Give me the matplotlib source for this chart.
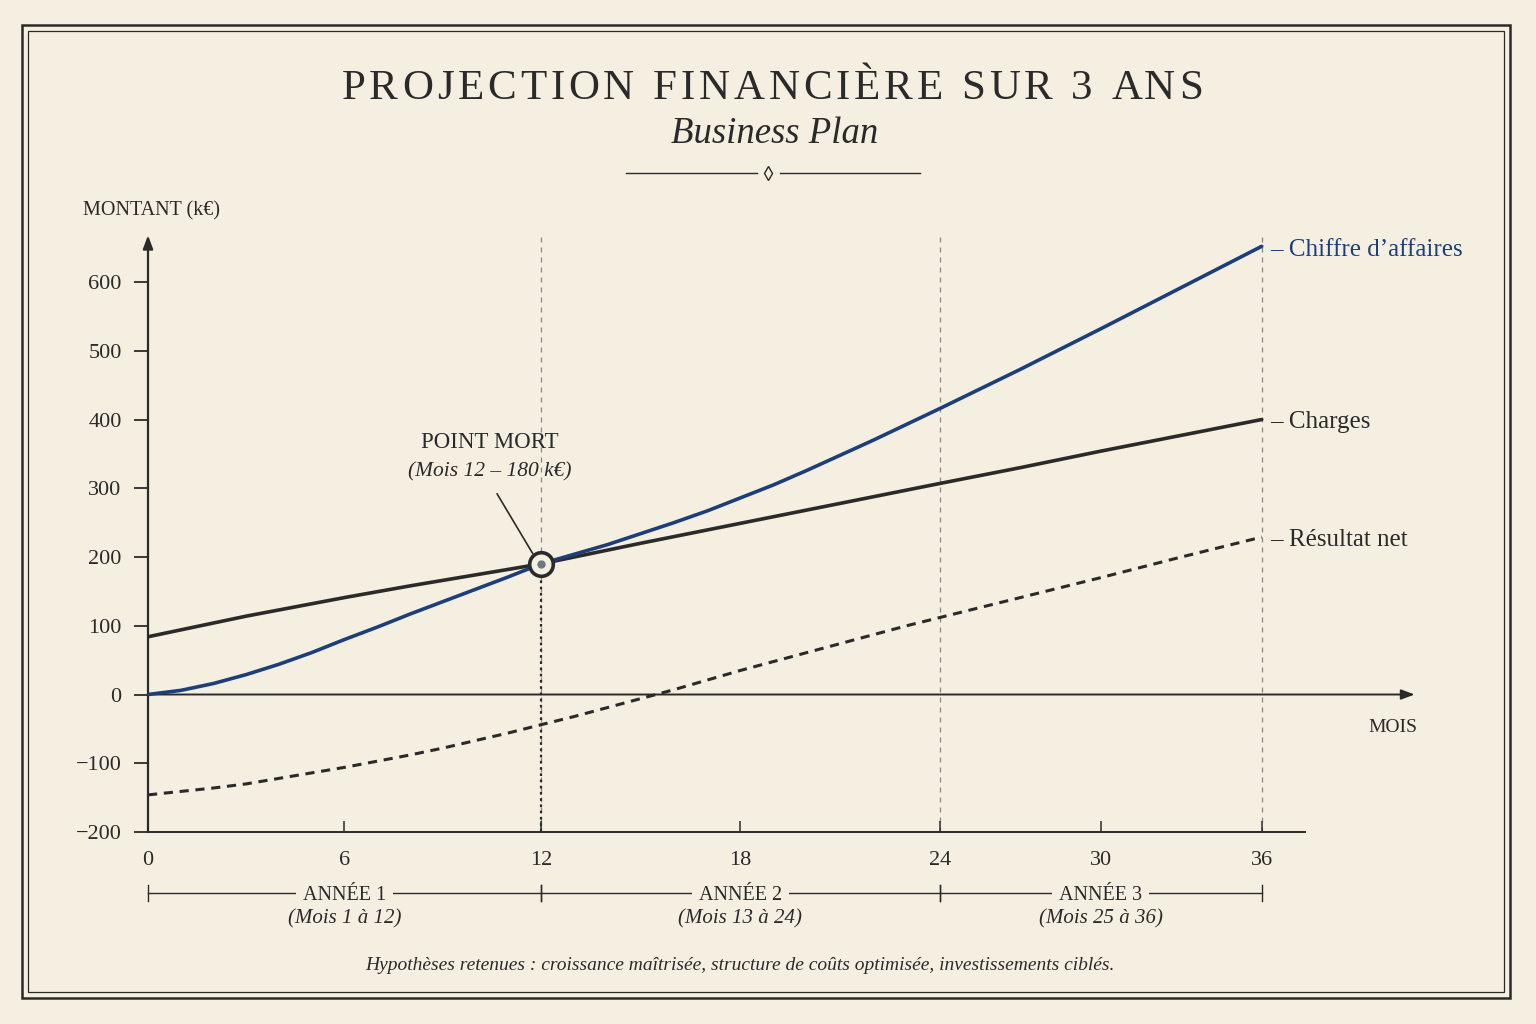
import numpy as np
import matplotlib
matplotlib.use("Agg")
import matplotlib.pyplot as plt
from matplotlib.lines import Line2D
from matplotlib.patches import Rectangle

# ---------------- data ----------------
months_ca = [0, 1, 2, 3, 4, 5, 6, 7, 8, 9, 10, 11, 12, 13, 14, 15, 16, 17, 18, 19, 20, 21, 22,
             23, 24, 27, 30, 33, 36]
chiffre_affaires = [0, 6, 16, 29, 44, 61, 80, 98, 117, 135, 153, 171, 190, 204, 218, 234, 250,
                    267, 286, 305, 326, 348, 370, 393, 416, 473, 532, 592, 652]
months_ch = [0, 1, 2, 3, 4, 5, 6, 8, 10, 12, 15, 18, 21, 24, 27, 30, 33, 36]
charges = [84, 94, 104, 114, 123, 132, 141, 158, 174, 190, 220, 249, 278, 307, 330, 354, 377, 400]
months_rn = [0, 1, 2, 3, 4, 5, 6, 7, 8, 9, 10, 11, 12, 13, 14, 15, 16, 17, 18, 19, 20, 21, 22,
             23, 24, 27, 30, 33, 36]
resultat_net = [-146, -141, -136, -130, -122, -114, -106, -97, -88, -78, -67, -56, -44, -32, -19,
                -6, 7, 21, 35, 48, 61, 74, 87, 100, 112, 141, 170, 200, 229]
x_ticks = [0, 6, 12, 18, 24, 30, 36]
y_ticks = [-200, -100, 0, 100, 200, 300, 400, 500, 600]
y_tick_labels = ["\u2212200", "\u2212100", "0", "100", "200", "300", "400", "500", "600"]
years = ["ANNÉE 1", "ANNÉE 2", "ANNÉE 3"]
year_sub = ["(Mois 1 à 12)", "(Mois 13 à 24)", "(Mois 25 à 36)"]
year_bounds = [(0, 12), (12, 24), (24, 36)]
break_even = (12, 190)

BG = "#f5efe2"
INK = "#2a2a2a"
BLUE = "#1c3f7a"
GREY = "#8a8680"
SERIF = ["Liberation Serif", "DejaVu Serif"]
plt.rcParams["font.family"] = SERIF

# piecewise month scale (year 3 drawn slightly compressed as in reference)
def fwd(m):
    m = np.asarray(m, dtype=float)
    return np.where(m <= 12, m * 32.75,
           np.where(m <= 24, 393 + (m - 12) * 33.25, 792 + (m - 24) * 26.83))

def inv(p):
    p = np.asarray(p, dtype=float)
    return np.where(p <= 393, p / 32.75,
           np.where(p <= 792, 12 + (p - 393) / 33.25, 24 + (p - 792) / 26.83))

W, H = 1536, 1024
fig = plt.figure(figsize=(15.36, 10.24), dpi=100, facecolor=BG)
renderer = fig.canvas.get_renderer()


def spaced_text(xc_px, y_px, s, target_px, **kw):
    """Centered text with extra letter spacing so that it spans target_px."""
    def width(txt):
        t = fig.text(0, 0, txt, **kw)
        w = t.get_window_extent(renderer).width
        t.remove()
        return w
    wI = width("I")
    adv = [0.0] + [width(s[:i] + "I") - wI for i in range(1, len(s))]
    natural = width(s)
    extra = (target_px - natural) / (len(s) - 1)
    x0 = xc_px - target_px / 2
    for i, ch in enumerate(s):
        if ch == " ":
            continue
        fig.text((x0 + adv[i] + i * extra) / W, 1 - y_px / H, ch, ha="left", va="center", **kw)


# double frame
fig.patches.append(Rectangle((22 / W, 1 - 998 / H), (1510 - 22) / W, (998 - 25) / H,
                             transform=fig.transFigure, fill=False, ec=INK, lw=1.8))
fig.patches.append(Rectangle((28 / W, 1 - 992 / H), (1504 - 28) / W, (992 - 31) / H,
                             transform=fig.transFigure, fill=False, ec=INK, lw=0.9))

ax = fig.add_axes([148 / W, 1 - 832 / H, (1420 - 148) / W, (832 - 230) / H])
ax.set_facecolor(BG)
ax.set_xscale("function", functions=(fwd, inv))
ax.set_xlim(0, 41.9)
ax.set_ylim(-200, 675.7)

for s in ["top", "right", "left"]:
    ax.spines[s].set_visible(False)
ax.spines["bottom"].set_bounds(0, 37.6)
ax.spines["bottom"].set_color(INK)
ax.spines["bottom"].set_linewidth(1.4)

ax.set_xticks(x_ticks)
ax.set_xticklabels([str(t) for t in x_ticks])
ax.tick_params(axis="x", direction="in", length=8, width=1.1, color=INK, pad=14,
               labelsize=16, labelcolor=INK)
ax.set_yticks(y_ticks)
ax.set_yticklabels(y_tick_labels)
ax.tick_params(axis="y", direction="out", length=10, width=1.3, color=INK, pad=9,
               labelsize=16, labelcolor=INK)

# y axis with arrow
ax.annotate("", xy=(0, 668), xytext=(0, -200), xycoords="data",
            arrowprops=dict(arrowstyle="-|>,head_length=0.8,head_width=0.3", color=INK, lw=1.6,
                            shrinkA=0, shrinkB=0), annotation_clip=False)
# zero line with arrow
ax.annotate("", xy=(41.7, 0), xytext=(0, 0), xycoords="data",
            arrowprops=dict(arrowstyle="-|>,head_length=0.8,head_width=0.3", color=INK, lw=1.4,
                            shrinkA=0, shrinkB=0), annotation_clip=False)

# year separators
for xv in [12, 24, 36]:
    ax.plot([xv, xv], [-200, 670], ls=(0, (4, 4)), color=GREY, lw=0.9, zorder=1)
ax.plot([12, 12], [-200, break_even[1]], ls=(0, (1.2, 1.6)), color=INK, lw=1.6, zorder=2)

# series
ax.plot(months_ch, charges, color=INK, lw=2.6, zorder=3, solid_capstyle="round",
        solid_joinstyle="round")
ax.plot(months_ca, chiffre_affaires, color=BLUE, lw=2.6, zorder=4, solid_capstyle="round",
        solid_joinstyle="round")
ax.plot(months_rn, resultat_net, color=INK, lw=2.2, ls=(0, (3, 2.2)), zorder=3)

# break-even marker
ax.plot([break_even[0]], [break_even[1]], marker="o", ms=17, mfc=BG, mec=INK, mew=2.6, zorder=6)
ax.plot([break_even[0]], [break_even[1]], marker="o", ms=6, mfc="#6d7785", mec="none", zorder=7)
ax.annotate("", xy=(11.75, 205), xytext=(10.66, 292),
            arrowprops=dict(arrowstyle="-", color=INK, lw=1.2, shrinkA=0, shrinkB=0))
ax.text(10.45, 366, "POINT MORT", ha="center", va="center", fontsize=16.5, color=INK)
ax.text(10.45, 324, "(Mois 12 \u2013 180 k\u20ac)", ha="center", va="center", fontsize=15.5,
        style="italic", color=INK)

# line labels
ax.text(36.3, 647, "\u2013 Chiffre d\u2019affaires", ha="left", va="center",
        fontsize=18, color=BLUE)
ax.text(36.3, 397, "\u2013 Charges", ha="left", va="center", fontsize=18, color=INK)
ax.text(36.3, 225, "\u2013 Résultat net", ha="left", va="center", fontsize=18, color=INK)

# axis titles
fig.text(83 / W, 1 - 211 / H, "MONTANT (k\u20ac)", ha="left", va="center", fontsize=14.5, color=INK)
fig.text(1417 / W, 1 - 727 / H, "MOIS", ha="right", va="center", fontsize=14, color=INK)

# year brackets
tr = ax.get_xaxis_transform()
yb = (832 - 893) / (832 - 230)
yt = (832 - 896) / (832 - 230)
ys = (832 - 919) / (832 - 230)
tick_h = 8 / (832 - 230)
for (a, b), lab, sub in zip(year_bounds, years, year_sub):
    ax.plot([a, b], [yb, yb], transform=tr, color=INK, lw=1.0, clip_on=False)
    for xv in (a, b):
        ax.plot([xv, xv], [yb - tick_h, yb + tick_h], transform=tr, color=INK, lw=1.0, clip_on=False)
    mid = float(inv((fwd(a) + fwd(b)) / 2))
    ax.text(mid, yt, lab, transform=tr, ha="center", va="center", fontsize=14.5, color=INK,
            bbox=dict(boxstyle="square,pad=0.35", fc=BG, ec="none"), clip_on=False, zorder=5)
    ax.text(mid, ys, sub, transform=tr, ha="center", va="center", fontsize=15,
            style="italic", color=INK, clip_on=False, zorder=6)

# title block
spaced_text(772, 89, "PROJECTION FINANCIÈRE SUR 3 ANS", 861, fontsize=31, color=INK)
fig.text(775 / W, 1 - 134 / H, "Business Plan", ha="center", va="center", fontsize=26.5,
         style="italic", color=INK)
fig.add_artist(Line2D([626 / W, 757 / W], [1 - 173 / H] * 2, transform=fig.transFigure,
                      color=INK, lw=1.0))
fig.add_artist(Line2D([780 / W, 920 / W], [1 - 173 / H] * 2, transform=fig.transFigure,
                      color=INK, lw=1.0))
fig.add_artist(Line2D([768 / W], [1 - 173 / H], transform=fig.transFigure, marker="d",
                      ms=7, mfc=BG, mec=INK, mew=1.0, ls="none"))

# footnote
fig.text(740 / W, 1 - 966 / H,
         "Hypothèses retenues : croissance maîtrisée, structure de coûts optimisée, investissements ciblés.",
         ha="center", va="center", fontsize=14, style="italic", color=INK)

fig.savefig("out.png", dpi=100, facecolor=BG)
